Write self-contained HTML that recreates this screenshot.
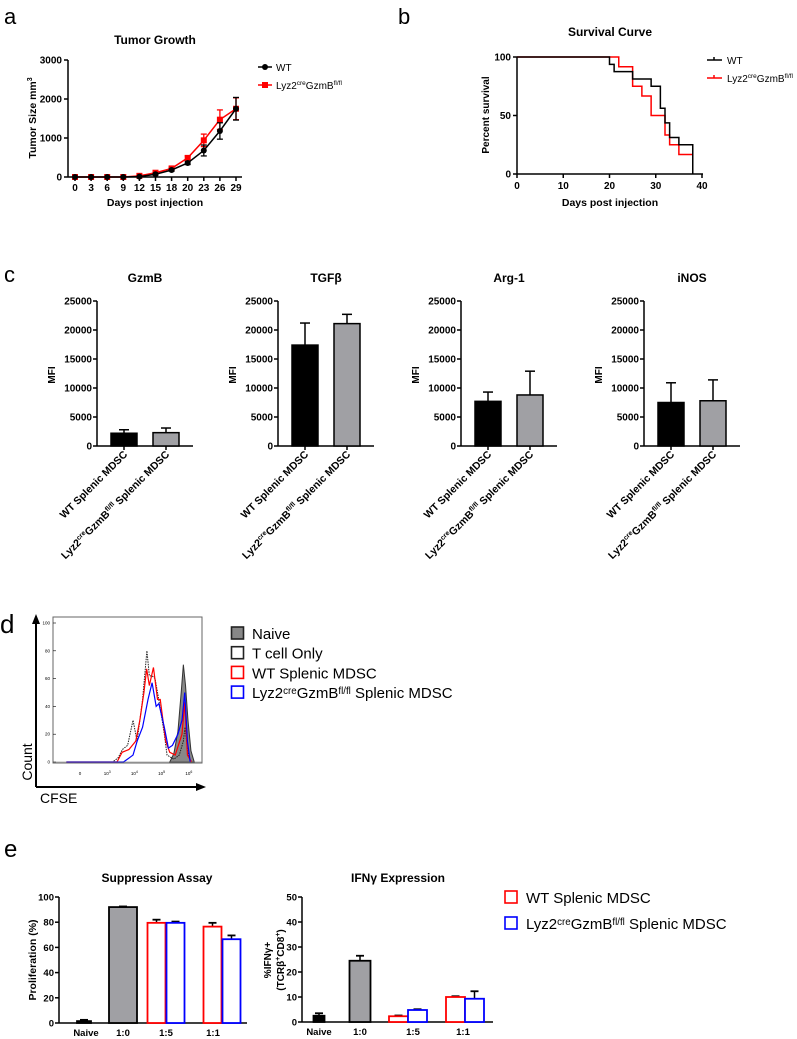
<!DOCTYPE html>
<html><head><meta charset="utf-8"><style>
html,body{margin:0;padding:0;background:#fff}
svg{display:block;font-family:"Liberation Sans",sans-serif}
.b{font-weight:bold}
</style></head><body>
<svg id="fig" width="797" height="1039" viewBox="0 0 797 1039" xmlns="http://www.w3.org/2000/svg">
<text x="4" y="24" font-size="22">a</text>
<text x="398" y="24" font-size="22">b</text>
<text x="4" y="282" font-size="22">c</text>
<text x="0" y="633" font-size="26">d</text>
<text x="4" y="857" font-size="24">e</text>
<g id="root"></g>
</svg>
<script>
// ---- Panel a data ----
const aDays = ['0','3','6','9','12','15','18','20','23','26','29'];
const aWT = [0,0,0,0,10,70,180,360,680,1180,1750];
const aWTerr = [0,0,0,0,5,20,30,40,140,210,290];
const aKO = [0,0,0,0,30,110,220,490,940,1470,1750];
const aKOerr = [0,0,0,0,10,20,30,50,160,250,280];
const aYTicks = [0,1000,2000,3000];
// ---- Panel b data ----
const bWTx = [0,20,21,25,29,31,32,33,35,38];
const bWTy = [100,93.75,87.5,81.25,75,56.25,43.75,31.25,25,0];
const bKOx = [0,22,25,27,29,32,33,35,38];
const bKOy = [100,91.7,75,66.7,50,33.3,25,16.7,0];
const bXTicks = [0,10,20,30,40];
const bYTicks = [0,50,100];
// ---- Panel c data ----
const cTitles = ['GzmB','TGFβ','Arg-1','iNOS'];
const cWT = [2200,17400,7700,7500];
const cWTerr = [600,3800,1600,3400];
const cKO = [2300,21100,8800,7800];
const cKOerr = [800,1600,4100,3600];
const cYTicks = [0,5000,10000,15000,20000,25000];
// ---- Panel d data (x in log decades, y in % of max) ----
const dNaiveX = [5.3,5.45,5.6,5.72,5.8,5.88,5.97,6.08,6.2];
const dNaiveY = [0,6,22,50,70,55,30,8,0];
const dTcX = [1.5,3.2,3.4,3.56,3.75,3.95,4.1,4.3,4.46,4.55,4.65,4.76,4.94,5.1,5.2,5.45,5.65,5.8,5.86,5.98,6.1];
const dTcY = [0,0,3,9,12,30,15,45,80,62,62,60,40,20,5,2,5,15,25,5,0];
const dWTx = [1.5,3.36,3.55,3.8,4.05,4.2,4.35,4.45,4.55,4.7,4.85,4.95,5.05,5.15,5.3,5.5,5.75,5.85,5.95,6.1];
const dWTy = [0,0,7,9,15,30,50,67,55,68,45,45,30,15,7,5,20,43,5,0];
const dKOx = [1.5,3.6,3.95,4.1,4.3,4.5,4.65,4.8,4.9,5.1,5.25,5.4,5.6,5.75,5.85,5.95,6.05];
const dKOy = [0,0,5,15,25,45,57,40,42,25,10,12,20,30,50,15,0];
const dYTicks = [0,20,40,60,80,100];
// ---- Panel e data ----
const e1Naive = 1.5, e1NaiveErr = 1, e1T = 92, e1TErr = 0.5;
const e1WT = [79.5,76.5], e1WTerr = [2.5,3];
const e1KO = [79.5,66.5], e1KOerr = [1,3];
const e1YTicks = [0,20,40,60,80,100];
const e2Naive = 2.5, e2NaiveErr = 1, e2T = 24.5, e2TErr = 2;
const e2WT = [2.3,10], e2WTerr = [0.3,0.3];
const e2KO = [4.8,9.3], e2KOerr = [0.3,3];
const e2YTicks = [0,10,20,30,40,50];
const eCats = ['Naive','1:0','1:5','1:1'];

const NS='http://www.w3.org/2000/svg';
const root=document.getElementById('root');
function mk(tag,attrs,parent){const e=document.createElementNS(NS,tag);for(const k in attrs)e.setAttribute(k,attrs[k]);(parent||root).appendChild(e);return e;}
function txt(x,y,s,o,parent){const e=mk('text',Object.assign({x:x,y:y},o||{}),parent);e.textContent=s;return e;}
function lyz(parent,x,y,o,tail){const t=mk('text',Object.assign({x:x,y:y},o),parent);
  let s=mk('tspan',{},t);s.textContent='Lyz2';
  s=mk('tspan',{dy:-4,'font-size':'0.65em'},t);s.textContent='cre';
  s=mk('tspan',{dy:4},t);s.textContent='GzmB';
  s=mk('tspan',{dy:-4,'font-size':'0.65em'},t);s.textContent='fl/fl';
  s=mk('tspan',{dy:4},t);s.textContent=tail||'';return t;}
let el;

// ===== Panel a =====
const xA=i=>75+i*16.1, yA=v=>177-v/3000*117;
const ga=mk('g',{});


el=txt(155,44,'Tumor Growth',{'text-anchor':'middle','font-size':12,class:'b'},ga);


mk('line',{x1:68,y1:yA(3000),x2:68,y2:177,stroke:'#000','stroke-width':1.5},ga);
mk('line',{x1:68,y1:177,x2:242,y2:177,stroke:'#000','stroke-width':1.5},ga);
aYTicks.forEach(v=>{mk('line',{x1:64,x2:68,y1:yA(v),y2:yA(v),stroke:'#000','stroke-width':1.5},ga);
 el=txt(62,yA(v)+3.5,String(v),{'text-anchor':'end','font-size':10,class:'b'},ga);
 
 });
aDays.forEach((d,i)=>{mk('line',{x1:xA(i),x2:xA(i),y1:177,y2:181,stroke:'#000','stroke-width':1.5},ga);
 el=txt(xA(i),191,d,{'text-anchor':'middle','font-size':10,class:'b'},ga);
 
 });
el=txt(155,206,'Days post injection',{'text-anchor':'middle','font-size':10.5,class:'b'},ga);


el=mk('text',{x:0,y:0,transform:'translate(36,118) rotate(-90)','text-anchor':'middle','font-size':10.5,class:'b'},ga);
el.innerHTML='Tumor Size mm<tspan dy="-4" font-size="7">3</tspan>';


function aSeries(vals,errs,col,sq,name){
 const g=mk('g',{},ga);
 
 
 vals.forEach((v,i)=>{if(errs[i]>0){mk('line',{x1:xA(i),x2:xA(i),y1:yA(v-errs[i]),y2:yA(v+errs[i]),stroke:col,'stroke-width':1.3},g);
  mk('line',{x1:xA(i)-3,x2:xA(i)+3,y1:yA(v+errs[i]),y2:yA(v+errs[i]),stroke:col,'stroke-width':1.3},g);
  mk('line',{x1:xA(i)-3,x2:xA(i)+3,y1:yA(v-errs[i]),y2:yA(v-errs[i]),stroke:col,'stroke-width':1.3},g);}});
 mk('polyline',{points:vals.map((v,i)=>xA(i)+','+yA(v)).join(' '),fill:'none',stroke:col,'stroke-width':1.5},g);
 vals.forEach((v,i)=>{ if(sq) mk('rect',{x:xA(i)-3,y:yA(v)-3,width:6,height:6,fill:col},g); else mk('circle',{cx:xA(i),cy:yA(v),r:3,fill:col},g);});
}
aSeries(aKO,aKOerr,'#f00',true,'series-lyz2-gzmb');
aSeries(aWT,aWTerr,'#000',false,'series-wt');
el=mk('g',{},ga);


mk('line',{x1:258,x2:272,y1:67,y2:67,stroke:'#000','stroke-width':1.5},el);mk('circle',{cx:265,cy:67,r:3,fill:'#000'},el);
txt(276,71,'WT',{'font-size':10},el);
el=mk('g',{},ga);


mk('line',{x1:258,x2:272,y1:85,y2:85,stroke:'#f00','stroke-width':1.5},el);mk('rect',{x:262,y:82,width:6,height:6,fill:'#f00'},el);
lyz(el,276,89,{'font-size':10});

// ===== Panel b =====
const xB=d=>517+d/40*185, yB=p=>174-p/100*117;
const gb=mk('g',{});


el=txt(610,36,'Survival Curve',{'text-anchor':'middle','font-size':12,class:'b'},gb);


mk('line',{x1:517,y1:yB(100),x2:517,y2:174,stroke:'#000','stroke-width':1.5},gb);
mk('line',{x1:517,y1:174,x2:703,y2:174,stroke:'#000','stroke-width':1.5},gb);
bYTicks.forEach(v=>{mk('line',{x1:513,x2:517,y1:yB(v),y2:yB(v),stroke:'#000','stroke-width':1.5},gb);
 el=txt(511,yB(v)+3.5,String(v),{'text-anchor':'end','font-size':10,class:'b'},gb);
 
 });
bXTicks.forEach(v=>{mk('line',{x1:xB(v),x2:xB(v),y1:174,y2:178,stroke:'#000','stroke-width':1.5},gb);
 el=txt(xB(v),189,String(v),{'text-anchor':'middle','font-size':10,class:'b'},gb);
 
 });
el=txt(610,206,'Days post injection',{'text-anchor':'middle','font-size':10.5,class:'b'},gb);


el=txt(0,0,'Percent survival',{transform:'translate(489,115) rotate(-90)','text-anchor':'middle','font-size':10,class:'b'},gb);


function steps(xs,ys){let p=[];for(let i=0;i<xs.length;i++){if(i>0)p.push(xB(xs[i])+','+yB(ys[i-1]));p.push(xB(xs[i])+','+yB(ys[i]));}return p.join(' ');}
el=mk('polyline',{points:steps(bKOx,bKOy),fill:'none',stroke:'#f00','stroke-width':1.5},gb);


el=mk('polyline',{points:steps(bWTx,bWTy),fill:'none',stroke:'#000','stroke-width':1.5},gb);


el=mk('g',{},gb);


mk('line',{x1:707,x2:722,y1:60,y2:60,stroke:'#000','stroke-width':1.5},el);mk('line',{x1:714,x2:714,y1:57,y2:60,stroke:'#000','stroke-width':1.5},el);
txt(727,64,'WT',{'font-size':10},el);
el=mk('g',{},gb);


mk('line',{x1:707,x2:722,y1:78,y2:78,stroke:'#f00','stroke-width':1.5},el);mk('line',{x1:714,x2:714,y1:75,y2:78,stroke:'#f00','stroke-width':1.5},el);
lyz(el,727,82,{'font-size':10});

// ===== Panel c =====
const cAx=[97,278,461,644];
const yC=v=>446-v/25000*145;
cTitles.forEach((t,k)=>{
 const ax=cAx[k];
 const g=mk('g',{});
 
 
 el=txt(ax+48,282,t,{'text-anchor':'middle','font-size':12,class:'b'},g);
 
 
 mk('line',{x1:ax,y1:yC(25000),x2:ax,y2:446,stroke:'#000','stroke-width':1.5},g);
 mk('line',{x1:ax,y1:446,x2:ax+96,y2:446,stroke:'#000','stroke-width':1.5},g);
 cYTicks.forEach(v=>{mk('line',{x1:ax-4,x2:ax,y1:yC(v),y2:yC(v),stroke:'#000','stroke-width':1.5},g);
  el=txt(ax-5,yC(v)+3.5,String(v),{'text-anchor':'end','font-size':10,class:'b'},g);
  
  });
 el=txt(0,0,'MFI',{transform:'translate('+(ax-42)+',375) rotate(-90)','text-anchor':'middle','font-size':10,class:'b'},g);
 
 
 [[cWT[k],cWTerr[k],'#000',ax+27,'bar-wt'],[cKO[k],cKOerr[k],'#a0a0a4',ax+69,'bar-lyz2']].forEach(b=>{
  mk('line',{x1:b[3],x2:b[3],y1:yC(b[0]+b[1]),y2:yC(b[0]),stroke:'#000','stroke-width':1.5},g);
  mk('line',{x1:b[3]-5,x2:b[3]+5,y1:yC(b[0]+b[1]),y2:yC(b[0]+b[1]),stroke:'#000','stroke-width':1.5},g);
  el=mk('rect',{x:b[3]-13,y:yC(b[0]),width:26,height:446-yC(b[0]),fill:b[2],stroke:'#000','stroke-width':1.5},g);
  
  
  mk('line',{x1:b[3],x2:b[3],y1:446,y2:450,stroke:'#000','stroke-width':1.5},g);
 });
 el=txt(0,0,'WT Splenic MDSC',{transform:'translate('+(ax+31)+',455) rotate(-45)','text-anchor':'end','font-size':10.5,class:'b'},g);
 
 
 const lg=mk('g',{transform:'translate('+(ax+73)+',455) rotate(-45)'},g);
 el=lyz(lg,0,0,{'text-anchor':'end','font-size':10.5,class:'b'},' Splenic MDSC');
 
 
});

// ===== Panel d =====
const xD=d=>80+(d-2)*27.2, yD=p=>762-p/100*139;
const gd=mk('g',{});


mk('rect',{x:53,y:617,width:149,height:146,fill:'none',stroke:'#666','stroke-width':1},gd);
mk('line',{x1:36,y1:787,x2:36,y2:622,stroke:'#000','stroke-width':2},gd);
mk('polygon',{points:'32,624 36,614 40,624',fill:'#000'},gd);
mk('line',{x1:36,y1:787,x2:198,y2:787,stroke:'#000','stroke-width':2},gd);
mk('polygon',{points:'196,783 206,787 196,791',fill:'#000'},gd);
el=txt(0,0,'Count',{transform:'translate(32,762) rotate(-90)','text-anchor':'middle','font-size':14},gd);


el=txt(40,803,'CFSE',{'font-size':14},gd);


dYTicks.forEach(v=>{mk('line',{x1:53,x2:56,y1:yD(v),y2:yD(v),stroke:'#000','stroke-width':0.6},gd);
 el=txt(50,yD(v)+1.5,String(v),{'text-anchor':'end','font-size':4.5},gd);
 
 });
[[2,'0'],[3,'10'],[4,'10'],[5,'10'],[6,'10']].forEach((t,i)=>{
 el=txt(xD(t[0]),775,t[1],{'text-anchor':'middle','font-size':4.5},gd);
 if(i>0){const s=mk('tspan',{dy:-2,'font-size':3.5},el);s.textContent=String(t[0]);}
 
 });
const pts=(xs,ys)=>xs.map((x,i)=>xD(x)+','+yD(ys[i])).join(' ');
el=mk('polygon',{points:pts(dNaiveX,dNaiveY),fill:'#888',stroke:'#333','stroke-width':1},gd);


el=mk('polyline',{points:pts(dTcX,dTcY),fill:'none',stroke:'#222','stroke-width':1,'stroke-dasharray':'1.5,1'},gd);


el=mk('polyline',{points:pts(dWTx,dWTy),fill:'none',stroke:'#f00','stroke-width':1.2},gd);


el=mk('polyline',{points:pts(dKOx,dKOy),fill:'none',stroke:'#00f','stroke-width':1.2},gd);


mk('line',{x1:53,x2:202,y1:762,y2:762,stroke:'#777','stroke-width':0.6},gd);
const dLeg=[['Naive','#888','#222'],['T cell Only','#fff','#222'],['WT Splenic MDSC','#fff','#f00'],['','#fff','#00f']];
dLeg.forEach((l,i)=>{const g=mk('g',{},gd);
 
 
 const y=633+i*19.7;
 mk('rect',{x:231.5,y:y-6,width:12,height:12,fill:l[1],stroke:l[2],'stroke-width':1.6},g);
 if(i<3) txt(252,y+6,l[0],{'font-size':15},g); else lyz(g,252,y+6,{'font-size':15},'  Splenic MDSC');});

// ===== Panel e =====
function eChart(name,title,tx,ax,axEnd,yTop,yBot,max,ticks,ytitle,naive,naiveErr,tv,tErr,wt,wtErr,ko,koErr,cfg){
 const y=v=>yBot-v/max*(yBot-yTop);
 const g=mk('g',{});
 
 
 el=txt(tx,882,title,{'text-anchor':'middle','font-size':12,class:'b'},g);
 
 
 mk('line',{x1:ax,y1:yTop,x2:ax,y2:yBot,stroke:'#000','stroke-width':1.5},g);
 mk('line',{x1:ax,y1:yBot,x2:axEnd,y2:yBot,stroke:'#000','stroke-width':1.5},g);
 ticks.forEach(v=>{mk('line',{x1:ax-4,x2:ax,y1:y(v),y2:y(v),stroke:'#000','stroke-width':1.5},g);
  el=txt(ax-5,y(v)+3.5,String(v),{'text-anchor':'end','font-size':9.5,class:'b'},g);
  
  });
 ytitle(g);
 const bars=[[naive,naiveErr,cfg.nx,cfg.nw,'#000','#000','bar-naive'],[tv,tErr,cfg.tx,cfg.tw,'#a0a0a4','#000','bar-1-0'],
  [wt[0],wtErr[0],cfg.g1-cfg.o,cfg.w,'#fff','#f00','bar-1-5-wt'],[ko[0],koErr[0],cfg.g1+cfg.o,cfg.w,'#fff','#00f','bar-1-5-lyz2'],
  [wt[1],wtErr[1],cfg.g2-cfg.o,cfg.w,'#fff','#f00','bar-1-1-wt'],[ko[1],koErr[1],cfg.g2+cfg.o,cfg.w,'#fff','#00f','bar-1-1-lyz2']];
 bars.forEach(b=>{
  mk('line',{x1:b[2],x2:b[2],y1:y(b[0]+b[1]),y2:y(b[0]),stroke:'#000','stroke-width':1.5},g);
  mk('line',{x1:b[2]-4,x2:b[2]+4,y1:y(b[0]+b[1]),y2:y(b[0]+b[1]),stroke:'#000','stroke-width':1.8},g);
  el=mk('rect',{x:b[2]-b[3]/2,y:y(b[0]),width:b[3],height:yBot-y(b[0]),fill:b[4],stroke:b[5],'stroke-width':1.8},g);
  
  
 });
 eCats.forEach((c,i)=>{el=txt(cfg.lx[i],yBot+13,c,{'text-anchor':'middle','font-size':9.5,class:'b'},g);
  
  });
}
eChart('suppression-assay-chart','Suppression Assay',157,59,247,897,1023,100,e1YTicks,g=>{
 el=txt(0,0,'Proliferation (%)',{transform:'translate(36,960) rotate(-90)','text-anchor':'middle','font-size':10.5,class:'b'},g);
 
 },
 e1Naive,e1NaiveErr,e1T,e1TErr,e1WT,e1WTerr,e1KO,e1KOerr,
 {nx:84,nw:14,tx:123,tw:28,g1:166,g2:222,o:9.5,w:18,lx:[86,123,166,213]});
eChart('ifng-expression-chart','IFNγ Expression',398,302,493,897,1022,50,e2YTicks,g=>{
 el=mk('text',{transform:'translate(271,960) rotate(-90)','text-anchor':'middle','font-size':10,class:'b'},g);
 el.innerHTML='%IFNγ+';
 
 
 el=mk('text',{transform:'translate(284,960) rotate(-90)','text-anchor':'middle','font-size':10,class:'b'},g);
 el.innerHTML='(TCRβ<tspan dy="-4" font-size="7">+</tspan><tspan dy="4">CD8</tspan><tspan dy="-4" font-size="7">+</tspan><tspan dy="4">)</tspan>';
 
 },
 e2Naive,e2NaiveErr,e2T,e2TErr,e2WT,e2WTerr,e2KO,e2KOerr,
 {nx:319,nw:11,tx:360,tw:21,g1:408,g2:465,o:9.5,w:19,lx:[319,360,413,463]});
[['WT Splenic MDSC','#f00',897],['','#00f',923]].forEach((l,i)=>{const g=mk('g',{});
 
 
 mk('rect',{x:505,y:l[2]-6,width:12,height:12,fill:'#fff',stroke:l[1],'stroke-width':1.6},g);
 if(i==0) txt(526,l[2]+6,l[0],{'font-size':15},g); else lyz(g,526,l[2]+6,{'font-size':15},' Splenic MDSC');});
</script>
</body></html>
